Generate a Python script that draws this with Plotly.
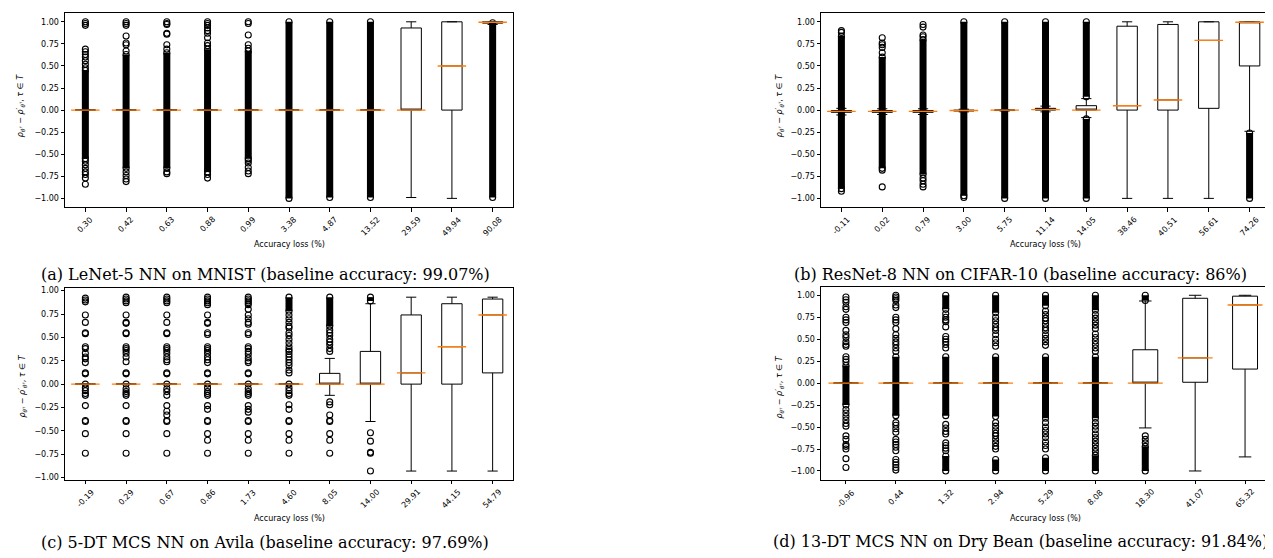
import plotly.graph_objects as go

W, H = 1273, 558
YT = [-1.0, -0.75, -0.5, -0.25, 0.0, 0.25, 0.5, 0.75, 1.0]

# ---------------- Panel (a): LeNet-5 NN on MNIST ----------------
a_cats = ["0.30", "0.42", "0.63", "0.88", "0.99", "3.38", "4.87", "13.52", "29.59", "49.94", "90.08"]
a_q1 = [0, 0, 0, 0, 0, 0, 0, 0, 0, 0, 0.985]
a_med = [0, 0, 0, 0, 0, 0, 0, 0, 0, 0.5, 0.995]
a_q3 = [0, 0, 0, 0, 0, 0, 0, 0, 0.93, 1.0, 1.0]
a_lo = [0, 0, 0, 0, 0, 0, 0, 0, -0.99, -1.0, 0.97]
a_hi = [0, 0, 0, 0, 0, 0, 0, 0, 1.0, 1.0, 1.0]
a_bands = [[(0.45, -0.55)], [(0.63, -0.66)], [(0.65, -0.66)], [(0.69, -0.70)], [(0.67, -0.55)],
           [(1.0, -1.0)], [(1.0, -0.99)], [(1.0, -0.99)], [], [], [(0.99, -0.99)]]
a_points = [
    [1.0, 0.98, 0.96, 0.69, 0.66, 0.63, 0.6, 0.56, 0.52, 0.48, -0.58, -0.62, -0.66, -0.7, -0.73, -0.77, -0.84],
    [1.0, 0.98, 0.96, 0.84, 0.76, 0.74, 0.67, -0.7, -0.74, -0.78, -0.81],
    [1.0, 0.98, 0.97, 0.87, 0.86, 0.74, 0.69, -0.7, -0.72],
    [1.0, 0.98, 0.96, 0.93, 0.9, 0.87, 0.82, 0.76, 0.73, -0.73, -0.77],
    [1.0, 0.98, 0.85, 0.74, 0.70, -0.57, -0.6, -0.65, -0.69, -0.72],
    [], [], [], [], [], [],
]

# ---------------- Panel (b): ResNet-8 NN on CIFAR-10 ----------------
b_cats = ["-0.11", "0.02", "0.79", "3.00", "5.75", "11.14", "14.05", "38.46", "40.51", "56.61", "74.26"]
b_q1 = [-0.025, -0.025, -0.025, -0.01, -0.005, 0.0, 0.0, 0.0, 0.0, 0.02, 0.5]
b_med = [-0.015, -0.015, -0.015, -0.005, 0.0, 0.005, 0.0, 0.05, 0.115, 0.79, 0.995]
b_q3 = [-0.005, -0.005, -0.005, 0.0, 0.0, 0.02, 0.05, 0.95, 0.97, 1.0, 1.0]
b_lo = [-0.055, -0.05, -0.05, -0.02, -0.01, -0.02, -0.085, -1.0, -1.0, -1.0, -0.24]
b_hi = [0.02, 0.015, 0.015, 0.01, 0.005, 0.045, 0.13, 1.0, 1.0, 1.0, 1.0]
b_bands = [[(0.84, -0.89)], [(0.6, -0.66)], [(0.8, -0.73)], [(1.0, -0.97)], [(1.0, -1.0)],
           [(1.0, -1.0)], [(1.0, 0.15), (-0.1, -1.0)], [], [], [], [(-0.26, -1.0)]]
b_points = [
    [0.9, 0.88, -0.92],
    [0.82, 0.76, 0.74, 0.71, 0.65, -0.68, -0.87],
    [0.97, 0.94, 0.85, 0.83, -0.77, -0.8, -0.84, -0.87],
    [-0.99],
    [], [], [], [], [], [], [],
]

# ---------------- Panel (c): 5-DT MCS NN on Avila ----------------
c_cats = ["-0.19", "0.29", "0.67", "0.86", "1.73", "4.60", "8.05", "14.00", "29.91", "44.15", "54.79"]
c_q1 = [0, 0, 0, 0, 0, 0, 0, 0, 0, 0, 0.12]
c_med = [0, 0, 0, 0, 0, 0, 0, 0, 0.12, 0.40, 0.74]
c_q3 = [0, 0, 0, 0, 0, 0, 0.115, 0.35, 0.74, 0.86, 0.91]
c_lo = [0, 0, 0, 0, 0, 0, -0.12, -0.40, -0.93, -0.93, -0.93]
c_hi = [0, 0, 0, 0, 0, 0, 0.275, 0.86, 0.93, 0.93, 0.93]
c_bands = [[], [], [], [], [], [(0.93, 0.78)], [(0.93, 0.62)], [(0.93, 0.89)], [], [], []]
c_points = [
    [0.92, 0.90, 0.88, 0.74, 0.66, 0.55, 0.54, 0.40, 0.38, 0.33, 0.29, 0.27, 0.23, 0.12, 0.11, 0.0,
     -0.04, -0.07, -0.1, -0.12, -0.23, -0.39, -0.40, -0.53, -0.74],
    [0.93, 0.91, 0.89, 0.87, 0.74, 0.66, 0.65, 0.55, 0.54, 0.40, 0.38, 0.36, 0.33, 0.29, 0.24, 0.12, 0.11,
     0.0, -0.05, -0.08, -0.1, -0.12, -0.23, -0.39, -0.40, -0.53, -0.74],
    [0.93, 0.91, 0.89, 0.87, 0.74, 0.66, 0.55, 0.54, 0.40, 0.38, 0.36, 0.33, 0.29, 0.26, 0.24, 0.12, 0.11,
     0.0, -0.05, -0.08, -0.12, -0.23, -0.29, -0.33, -0.39, -0.40, -0.53, -0.74],
    [0.93, 0.91, 0.89, 0.87, 0.85, 0.74, 0.66, 0.65, 0.55, 0.53, 0.40, 0.38, 0.36, 0.33, 0.29, 0.26, 0.23,
     0.12, 0.11, 0.0, -0.04, -0.08, -0.1, -0.12, -0.23, -0.27, -0.39, -0.40, -0.53, -0.6, -0.74],
    [0.93, 0.91, 0.89, 0.87, 0.85, 0.80, 0.74, 0.70, 0.66, 0.64, 0.55, 0.53, 0.40, 0.38, 0.35, 0.32, 0.28,
     0.25, 0.23, 0.12, 0.11, 0.0, -0.05, -0.08, -0.1, -0.12, -0.23, -0.27, -0.30, -0.39, -0.40, -0.53,
     -0.6, -0.74],
    [0.74, 0.7, 0.66, 0.62, 0.6, 0.55, 0.52, 0.48, 0.44, 0.4, 0.37, 0.35, 0.32, 0.29, 0.26, 0.23, 0.2,
     0.15, 0.12, 0.0, -0.04, -0.07, -0.1, -0.12, -0.22, -0.27, -0.39, -0.40, -0.53, -0.6, -0.74],
    [0.58, 0.55, 0.52, 0.48, 0.45, 0.42, 0.38, 0.35, -0.19, -0.22, -0.33, -0.39, -0.40, -0.53, -0.6, -0.74],
    [-0.52, -0.61, -0.73, -0.74, -0.93],
    [], [], [],
]

# ---------------- Panel (d): 13-DT MCS NN on Dry Bean ----------------
d_cats = ["-0.96", "0.44", "1.32", "2.94", "5.29", "8.08", "18.30", "41.07", "65.32"]
d_q1 = [0, 0, 0, 0, 0, 0, 0, 0.01, 0.16]
d_med = [0, 0, 0, 0, 0, 0, 0, 0.287, 0.89]
d_q3 = [0, 0, 0, 0, 0, 0, 0.38, 0.966, 0.99]
d_lo = [0, 0, 0, 0, 0, 0, -0.51, -1.0, -0.84]
d_hi = [0, 0, 0, 0, 0, 0, 0.935, 1.0, 1.0]
d_bands = [[(0.2, -0.25)], [(0.3, -0.37)], [(1.0, 0.84), (0.3, -0.37), (-0.83, -1.0)],
           [(1.0, 0.8), (0.3, -0.38), (-0.87, -1.0)], [(1.0, 0.88), (0.3, -0.4), (-0.85, -1.0)],
           [(1.0, 0.83), (0.3, -0.4), (-0.82, -1.0)], [(1.0, 0.94), (-0.72, -1.0)], [], []]
d_points = [
    [0.98, 0.95, 0.92, 0.87, 0.84, 0.75, 0.72, 0.69, 0.6, 0.55, 0.52, 0.47, 0.44, 0.42, 0.3, 0.27, 0.24,
     -0.3, -0.34, -0.38, -0.42, -0.46, -0.49, -0.6, -0.64, -0.7, -0.72, -0.75, -0.86, -0.96],
    [1.0, 0.98, 0.96, 0.94, 0.89, 0.86, 0.75, 0.72, 0.69, 0.62, 0.55, 0.51, 0.47, 0.44, 0.4, 0.36,
     -0.45, -0.48, -0.52, -0.56, -0.64, -0.67, -0.7, -0.73, -0.77, -0.87, -0.9, -0.93, -0.96, -0.99],
    [0.79, 0.75, 0.72, 0.7, 0.64, 0.53, 0.5, 0.47, 0.44, 0.4, -0.47, -0.51, -0.55, -0.58, -0.68, -0.71,
     -0.74, -0.77],
    [0.75, 0.71, 0.67, 0.63, 0.6, 0.55, 0.5, 0.46, 0.42, -0.45, -0.49, -0.53, -0.57, -0.6, -0.64, -0.68,
     -0.72, -0.75],
    [0.82, 0.78, 0.74, 0.71, 0.67, 0.63, 0.6, 0.55, 0.51, 0.47, 0.43, -0.45, -0.5, -0.54, -0.58, -0.62,
     -0.67, -0.71, -0.75],
    [0.78, 0.74, 0.7, 0.66, 0.62, 0.56, 0.52, 0.48, 0.44, 0.4, 0.36, -0.45, -0.49, -0.53, -0.58, -0.62,
     -0.66, -0.7, -0.74, -0.78],
    [-0.6, -0.64, -0.68],
    [], [],
]

captions = [
    "(a) LeNet-5 NN on MNIST (baseline accuracy: 99.07%)",
    "(b) ResNet-8 NN on CIFAR-10 (baseline accuracy: 86%)",
    "(c) 5-DT MCS NN on Avila (baseline accuracy: 97.69%)",
    "(d) 13-DT MCS NN on Dry Bean (baseline accuracy: 91.84%)",
]
x_title = "Accuracy loss (%)"
y_title = ("<i>ρ</i><sub><i>θ</i><sup><i>τ</i></sup></sub> − <i>ρ′</i><sub><i>θ</i><sup><i>τ</i></sup></sub>"
           ", <i>τ</i> ∈ <i>T</i>")

# layout geometry (pixels)
panels = [
    dict(d=(a_cats, a_q1, a_med, a_q3, a_lo, a_hi, a_bands, a_points), xpx=(57, 505), ypx=(3, 199),
         yr=(-1.1, 1.1), cap=(257, 267), xt=237, yt=(13, 97)),
    dict(d=(b_cats, b_q1, b_med, b_q3, b_lo, b_hi, b_bands, b_points), xpx=(813, 1262), ypx=(3, 199),
         yr=(-1.1, 1.1), cap=(1012, 267), xt=237, yt=(772, 97)),
    dict(d=(c_cats, c_q1, c_med, c_q3, c_lo, c_hi, c_bands, c_points), xpx=(57, 505), ypx=(281, 474),
         yr=(-1.023, 1.023), cap=(257, 537), xt=513, yt=(15, 380)),
    dict(d=(d_cats, d_q1, d_med, d_q3, d_lo, d_hi, d_bands, d_points), xpx=(813, 1262), ypx=(279, 474),
         yr=(-1.1, 1.1), cap=(1012, 536), xt=513, yt=(772, 381)),
]

BLACK = "black"
ORANGE = "#ff7f0e"
TICKFONT = dict(family="DejaVu Sans", size=8, color="black")

fig = go.Figure()
annotations = []
for i, p in enumerate(panels):
    cats, q1, med, q3, lo, hi, bands, points = p["d"]
    sfx = "" if i == 0 else str(i + 1)
    xa, ya = "x" + sfx, "y" + sfx
    n = len(cats)
    box_px = 0.5 * (p["xpx"][1] - p["xpx"][0]) / n

    fig.add_trace(go.Box(
        x=cats, q1=q1, median=med, q3=q3, lowerfence=lo, upperfence=hi,
        boxpoints=False, width=0.5, whiskerwidth=0.5, fillcolor="white",
        line=dict(color=BLACK, width=1), xaxis=xa, yaxis=ya, showlegend=False, hoverinfo="skip"))

    bx, by = [], []
    for c, bl in zip(cats, bands):
        for top, bot in bl:
            bx += [c, c, None]
            by += [top, bot, None]
    fig.add_trace(go.Scatter(
        x=bx, y=by, mode="lines+markers", line=dict(color=BLACK, width=7),
        marker=dict(symbol="circle-open", size=6, color=BLACK, line=dict(width=1.1)),
        xaxis=xa, yaxis=ya, showlegend=False, hoverinfo="skip", connectgaps=False))

    sx, sy = [], []
    for c, pl in zip(cats, points):
        for v in pl:
            sx.append(c)
            sy.append(v)
    fig.add_trace(go.Scatter(
        x=sx, y=sy, mode="markers",
        marker=dict(symbol="circle-open", size=6, color=BLACK, line=dict(width=1.1)),
        xaxis=xa, yaxis=ya, showlegend=False, hoverinfo="skip"))

    fig.add_trace(go.Scatter(
        x=cats, y=med, mode="markers",
        marker=dict(symbol="line-ew", size=box_px, color=ORANGE, line=dict(color=ORANGE, width=1.4)),
        xaxis=xa, yaxis=ya, showlegend=False, hoverinfo="skip"))

    xdom = [p["xpx"][0] / W, p["xpx"][1] / W]
    ydom = [1 - p["ypx"][1] / H, 1 - p["ypx"][0] / H]
    fig.update_layout(**{
        "xaxis" + sfx: dict(
            domain=xdom, anchor=ya, type="category", range=[-0.5, n - 0.5],
            categoryorder="array", categoryarray=cats, showticklabels=False,
            showline=True, mirror=True, linecolor=BLACK, linewidth=1,
            ticks="outside", ticklen=3.5, tickwidth=0.8, tickcolor=BLACK,
            showgrid=False, zeroline=False),
        "yaxis" + sfx: dict(
            domain=ydom, anchor=xa, range=list(p["yr"]), tickvals=YT, tickformat=".2f",
            showline=True, mirror=True, linecolor=BLACK, linewidth=1,
            ticks="outside", ticklen=3.5, tickwidth=0.8, tickcolor=BLACK,
            tickfont=TICKFONT, showgrid=False, zeroline=False),
    })

    # rotated category labels: bounding box centred under each tick (matplotlib style)
    for j, c in enumerate(cats):
        annotations.append(dict(text=c, x=j, xref=xa, y=1 - (p["ypx"][1] + 6.5) / H, yref="paper",
                                textangle=-45, showarrow=False, xanchor="center", yanchor="top",
                                borderpad=0, font=TICKFONT))

    xc = (p["xpx"][0] + p["xpx"][1]) / 2
    annotations.append(dict(text=x_title, x=xc / W, y=1 - p["xt"] / H, xref="paper", yref="paper",
                            showarrow=False, xanchor="center", yanchor="middle",
                            font=dict(family="DejaVu Sans", size=8, color="black")))
    annotations.append(dict(text=y_title, x=p["yt"][0] / W, y=1 - p["yt"][1] / H, xref="paper",
                            yref="paper", showarrow=False, xanchor="center", yanchor="middle",
                            textangle=-90, font=dict(family="DejaVu Sans", size=8, color="black")))
    annotations.append(dict(text=captions[i], x=p["cap"][0] / W, y=1 - p["cap"][1] / H, xref="paper",
                            yref="paper", showarrow=False, xanchor="center", yanchor="middle",
                            font=dict(family="DejaVu Serif", size=16, color="black")))

fig.update_layout(width=W, height=H, margin=dict(l=0, r=0, t=0, b=0),
                  paper_bgcolor="white", plot_bgcolor="white", annotations=annotations,
                  showlegend=False)
fig.write_html("out.html")
